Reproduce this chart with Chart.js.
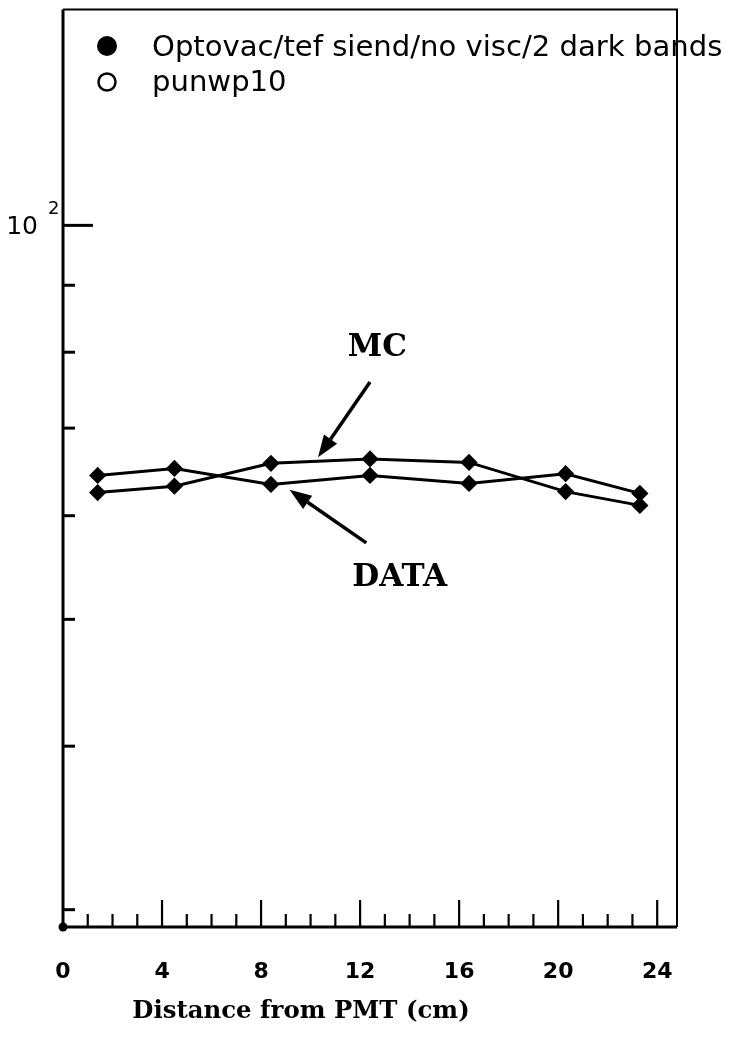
<!DOCTYPE html>
<html><head><meta charset="utf-8">
<script src="https://cdn.jsdelivr.net/npm/chart.js@4/dist/chart.umd.min.js"></script>
<style>html,body{margin:0;padding:0;background:#fff}#wrap{width:733px;height:1046px;position:relative}</style>
</head><body><div id="wrap"><canvas id="c"></canvas></div>
<script>
// ---- data ----
const distances = [1.4, 4.5, 8.4, 12.4, 16.4, 20.3, 23.3];
const dataSeries = [64.4, 65.2, 63.4, 64.4, 63.5, 64.6, 62.4];   // DATA
const mcSeries   = [62.5, 63.2, 65.8, 66.3, 65.9, 62.6, 61.1];   // MC
const xMajorTicks = [0, 4, 8, 12, 16, 20, 24];
const xMinorTicks = [1,2,3,5,6,7,9,10,11,13,14,15,17,18,19,21,22,23];
const yMajorTicks = [100];
const yMinorTicks = [30, 40, 50, 60, 70, 80, 90];
const legendLabels = ['Optovac/tef siend/no visc/2 dark bands', 'punwp10'];
const xTitle = 'Distance from PMT (cm)';
const notes = [
  {text:'MC',   x:12.7, y:80.6, tail:[12.4, 75.9], head:[10.3, 66.5]},
  {text:'DATA', x:13.6, y:53.8, tail:[12.25, 57.2], head:[9.15, 62.8]}
];

function fitSize(ctx, text, weight, family, target){
  ctx.font = weight + ' 100px ' + family;
  return 100 * target / ctx.measureText(text).width;
}
function arrow(ctx, x1, y1, x2, y2){
  const ang = Math.atan2(y2 - y1, x2 - x1), L = 22, W = 8;
  const bx = x2 - L * Math.cos(ang), by = y2 - L * Math.sin(ang);
  ctx.lineWidth = 3.5; ctx.beginPath(); ctx.moveTo(x1, y1); ctx.lineTo(bx, by); ctx.stroke();
  ctx.beginPath(); ctx.moveTo(x2, y2);
  ctx.lineTo(bx + W * Math.sin(ang), by - W * Math.cos(ang));
  ctx.lineTo(bx - W * Math.sin(ang), by + W * Math.cos(ang));
  ctx.closePath(); ctx.fill();
}

const decor = {
  id: 'decor',
  afterDraw(chart){
    const {ctx, chartArea: a, scales: {x, y}} = chart;
    ctx.save();
    ctx.strokeStyle = '#000'; ctx.fillStyle = '#000'; ctx.lineCap = 'butt';
    // frame
    ctx.lineWidth = 3;
    ctx.beginPath(); ctx.moveTo(a.left, a.top); ctx.lineTo(a.left, a.bottom); ctx.lineTo(a.right, a.bottom); ctx.stroke();
    ctx.lineWidth = 2;
    ctx.beginPath(); ctx.moveTo(a.left, a.top); ctx.lineTo(a.right, a.top); ctx.lineTo(a.right, a.bottom); ctx.stroke();
    // inward ticks
    ctx.lineWidth = 2.2;
    xMinorTicks.forEach(v => { const p = x.getPixelForValue(v); ctx.beginPath(); ctx.moveTo(p, a.bottom); ctx.lineTo(p, a.bottom - 13); ctx.stroke(); });
    xMajorTicks.forEach(v => { if (v === 0) return; const p = x.getPixelForValue(v); ctx.beginPath(); ctx.moveTo(p, a.bottom); ctx.lineTo(p, a.bottom - 27); ctx.stroke(); });
    ctx.lineWidth = 3;
    yMinorTicks.forEach(v => { const p = y.getPixelForValue(v); ctx.beginPath(); ctx.moveTo(a.left, p); ctx.lineTo(a.left + 12, p); ctx.stroke(); });
    yMajorTicks.forEach(v => { const p = y.getPixelForValue(v); ctx.beginPath(); ctx.moveTo(a.left, p); ctx.lineTo(a.left + 30, p); ctx.stroke(); });
    // origin dot
    ctx.beginPath(); ctx.arc(x.getPixelForValue(0), a.bottom, 4.5, 0, Math.PI * 2); ctx.fill();
    // y label 10^2
    yMajorTicks.forEach(v => {
      const p = y.getPixelForValue(v);
      ctx.font = '25px "DejaVu Sans"'; ctx.textAlign = 'right'; ctx.textBaseline = 'middle';
      ctx.fillText('10', a.left - 25, p + 2);
      ctx.font = '18px "DejaVu Sans"'; ctx.textAlign = 'left'; ctx.textBaseline = 'middle';
      ctx.fillText('2', a.left - 15, p - 16);
    });
    // legend
    const ls = fitSize(ctx, legendLabels[0], 'normal', '"DejaVu Sans"', 571);
    ctx.font = ls.toFixed(1) + 'px "DejaVu Sans"'; ctx.textAlign = 'left'; ctx.textBaseline = 'middle';
    ctx.fillText(legendLabels[0], 152, 48);
    ctx.fillText(legendLabels[1], 152, 83);
    ctx.beginPath(); ctx.arc(107, 46, 10, 0, Math.PI * 2); ctx.fill();
    ctx.lineWidth = 2.5; ctx.beginPath(); ctx.arc(107, 82, 8.5, 0, Math.PI * 2); ctx.stroke();
    // annotations
    const ns = fitSize(ctx, 'DATA', 'bold', '"DejaVu Serif"', 95);
    notes.forEach(n => {
      ctx.font = 'bold ' + ns.toFixed(1) + 'px "DejaVu Serif"'; ctx.textAlign = 'center'; ctx.textBaseline = 'middle';
      ctx.fillText(n.text, x.getPixelForValue(n.x), y.getPixelForValue(n.y));
      arrow(ctx, x.getPixelForValue(n.tail[0]), y.getPixelForValue(n.tail[1]), x.getPixelForValue(n.head[0]), y.getPixelForValue(n.head[1]));
    });
    // x title
    const ts = fitSize(ctx, xTitle, 'bold', '"DejaVu Serif"', 337);
    ctx.font = 'bold ' + ts.toFixed(1) + 'px "DejaVu Serif"'; ctx.textAlign = 'center'; ctx.textBaseline = 'middle';
    ctx.fillText(xTitle, 301, 1012);
    ctx.restore();
  }
};

const pointStyle = {pointStyle: 'rectRot', pointRadius: 6.5, pointHoverRadius: 6.5, pointBackgroundColor: '#000', pointBorderColor: '#000', borderColor: '#000', borderWidth: 3, tension: 0, fill: false};

new Chart(document.getElementById('c'), {
  type: 'line',
  data: {
    datasets: [
      Object.assign({label: legendLabels[0], data: distances.map((d, i) => ({x: d, y: dataSeries[i]}))}, pointStyle),
      Object.assign({label: legendLabels[1], data: distances.map((d, i) => ({x: d, y: mcSeries[i]}))}, pointStyle)
    ]
  },
  options: {
    responsive: true, maintainAspectRatio: false, animation: false,
    layout: {padding: {top: 9, right: 56, left: 0, bottom: 0}},
    plugins: {legend: {display: false}, tooltip: {enabled: false}},
    scales: {
      x: {
        type: 'linear', min: 0, max: 24.8,
        afterBuildTicks: s => { s.ticks = xMajorTicks.map(v => ({value: v})); },
        ticks: {color: '#000', font: {family: '"DejaVu Sans"', size: 22, weight: 'bold'}, padding: 24, maxRotation: 0},
        grid: {display: false}, border: {display: false},
        afterFit: s => { s.height = 119; }
      },
      y: {
        type: 'logarithmic', min: 29.1, max: 146.2,
        ticks: {display: false},
        grid: {display: false}, border: {display: false},
        afterFit: s => { s.width = 63; }
      }
    }
  },
  plugins: [decor]
});
</script></body></html>
